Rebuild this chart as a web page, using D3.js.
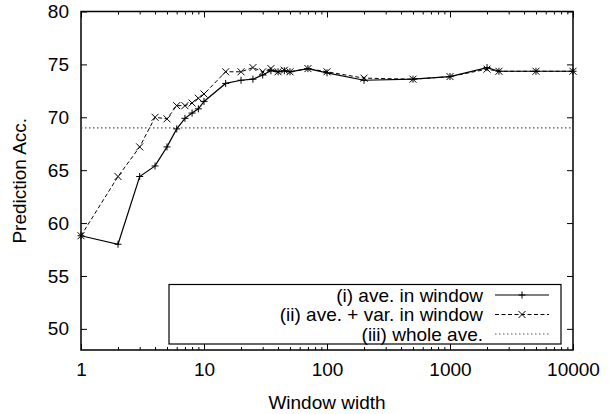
<!DOCTYPE html>
<html><head><meta charset="utf-8">
<script src="https://cdn.jsdelivr.net/npm/d3@7"></script>
<style>
body{margin:0;background:#fff;}
text{font-family:"Liberation Sans",Arial,sans-serif;fill:#000;}
</style></head>
<body><svg id="c" width="616" height="414"></svg>
<script>
const windows = [1,2,3,4,5,6,7,8,9,10,15,20,25,30,35,40,45,50,70,100,200,500,1000,2000,2500,5000,10000];
const aveInWindow = [58.8,58.0,64.4,65.4,67.2,68.9,69.9,70.4,70.8,71.5,73.2,73.5,73.6,74.0,74.4,74.3,74.4,74.3,74.6,74.2,73.5,73.6,73.85,74.7,74.35,74.35,74.35];
const aveVarInWindow = [58.8,64.4,67.2,70.0,69.85,71.1,71.1,71.35,71.8,72.2,74.3,74.3,74.7,74.3,74.6,74.3,74.45,74.3,74.6,74.3,73.7,73.6,73.85,74.55,74.35,74.35,74.35];
const wholeAve = 69.0;
const yTicks = [50,55,60,65,70,75,80];
const xTicks = [1,10,100,1000,10000];
const legendLabels = ["(i) ave. in window","(ii) ave. + var. in window","(iii) whole ave."];

const svg = d3.select("#c");
const L=81,R=573,T=11.5,B=350;
const x = d3.scaleLog().domain([1,10000]).range([L,R]);
const y = d3.scaleLinear().domain([48,80]).range([B,T]);
const fs = 19;

const minor = [];
for (let d=1; d<10000; d*=10) for (let k=2;k<=9;k++) minor.push(d*k);

const g = svg.append("g");
const ya = g.append("g").attr("transform",`translate(${L},0)`)
  .call(d3.axisLeft(y).tickValues(yTicks).tickSizeInner(-6).tickSizeOuter(0).tickPadding(12));
ya.selectAll("text").style("font-size",fs+"px");
g.append("g").attr("transform",`translate(${R},0)`)
  .call(d3.axisRight(y).tickValues(yTicks).tickSizeInner(-6).tickSizeOuter(0).tickFormat(""));
const xa = g.append("g").attr("transform",`translate(0,${B})`)
  .call(d3.axisBottom(x).tickValues(xTicks).tickSizeInner(-6).tickSizeOuter(0).tickPadding(13).tickFormat(d3.format("d")));
xa.selectAll("text").style("font-size",fs+"px");
g.append("g").attr("transform",`translate(0,${B})`)
  .call(d3.axisBottom(x).tickValues(minor).tickSizeInner(-3).tickSizeOuter(0).tickFormat(""));
g.append("g").attr("transform",`translate(0,${T})`)
  .call(d3.axisTop(x).tickValues(xTicks).tickSizeInner(-6).tickSizeOuter(0).tickFormat(""));
g.append("g").attr("transform",`translate(0,${T})`)
  .call(d3.axisTop(x).tickValues(minor).tickSizeInner(-3).tickSizeOuter(0).tickFormat(""));
g.selectAll(".domain").remove();
g.selectAll(".tick line").attr("stroke","#000").attr("stroke-width",1);

svg.append("rect").attr("x",L).attr("y",T).attr("width",R-L).attr("height",B-T)
  .attr("fill","none").attr("stroke","#000").attr("stroke-width",1.5);

svg.append("line").attr("x1",L).attr("x2",R).attr("y1",y(wholeAve)).attr("y2",y(wholeAve))
  .attr("stroke","#555").attr("stroke-width",1.2).attr("stroke-dasharray","1.5,2.5");

const line = d3.line().x(d=>x(d[0])).y(d=>y(d[1]));
const s1 = windows.map((w,i)=>[w,aveInWindow[i]]);
const s2 = windows.map((w,i)=>[w,aveVarInWindow[i]]);

svg.append("path").attr("d",line(s2)).attr("fill","none").attr("stroke","#000")
  .attr("stroke-width",1).attr("stroke-dasharray","4,2.5");
svg.append("path").attr("d",line(s1)).attr("fill","none").attr("stroke","#000").attr("stroke-width",1.2);

function plus(sel,cx,cy){const r=3.5;
  sel.append("path").attr("d",`M${cx-r},${cy}H${cx+r}M${cx},${cy-r}V${cy+r}`).attr("stroke","#000").attr("stroke-width",1);}
function cross(sel,cx,cy){const r=3.5;
  sel.append("path").attr("d",`M${cx-r},${cy-r}L${cx+r},${cy+r}M${cx-r},${cy+r}L${cx+r},${cy-r}`).attr("stroke","#000").attr("stroke-width",1);}
const m = svg.append("g");
s1.forEach(d=>plus(m,x(d[0]),y(d[1])));
s2.forEach(d=>cross(m,x(d[0]),y(d[1])));

const lg = svg.append("g");
lg.append("rect").attr("x",169).attr("y",284.5).attr("width",392).attr("height",59.5)
  .attr("fill","#fff").attr("stroke","#000").attr("stroke-width",1.2);
const rows=[295,314.5,334];
legendLabels.forEach((t,i)=>{
  lg.append("text").attr("x",483).attr("y",rows[i]).attr("dy","0.35em")
    .attr("text-anchor","end").style("font-size",fs+"px").text(t);
});
lg.append("line").attr("x1",495).attr("x2",549).attr("y1",rows[0]).attr("y2",rows[0]).attr("stroke","#000").attr("stroke-width",1.2);
plus(lg,522,rows[0]);
lg.append("line").attr("x1",495).attr("x2",549).attr("y1",rows[1]).attr("y2",rows[1]).attr("stroke","#000").attr("stroke-width",1).attr("stroke-dasharray","4,2.5");
cross(lg,522,rows[1]);
lg.append("line").attr("x1",495).attr("x2",549).attr("y1",rows[2]).attr("y2",rows[2]).attr("stroke","#555").attr("stroke-width",1.2).attr("stroke-dasharray","1.5,2.5");

svg.append("text").attr("x",(L+R)/2).attr("y",409).attr("text-anchor","middle").style("font-size",fs+"px").text("Window width");
svg.append("text").attr("transform",`translate(26,${(T+B)/2}) rotate(-90)`).attr("text-anchor","middle").style("font-size",fs+"px").text("Prediction Acc.");
</script></body></html>
